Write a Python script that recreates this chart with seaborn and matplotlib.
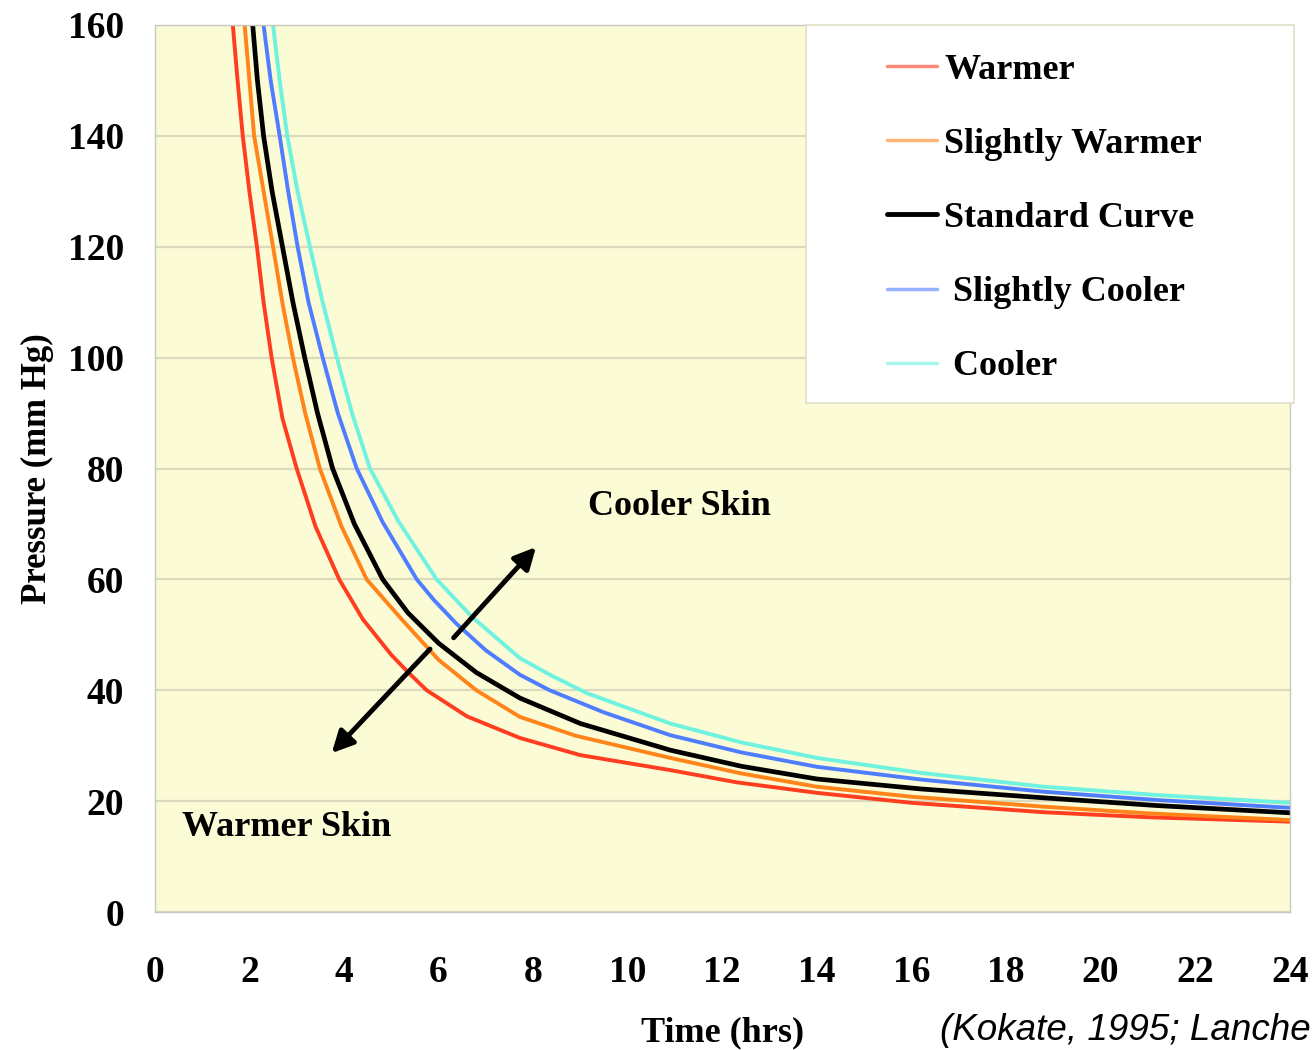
import pandas as pd
import numpy as np
import matplotlib
matplotlib.use("Agg")
import matplotlib.pyplot as plt
import seaborn as sns
from matplotlib.patches import Rectangle

# region Datos
warmer_t = [1.65, 1.75, 1.86, 2.0, 2.16, 2.3, 2.47, 2.7, 3.0, 3.4, 3.9, 4.4, 5.0, 5.35,
            5.75, 6.6, 7.72, 9.0, 10.9, 12.3, 14.0, 16.0, 18.8, 21.0, 24.0]
warmer_p = [160, 150, 140, 130, 120, 110, 100, 89, 80, 69.5, 60, 52.8, 46.4, 43.3,
            40, 35.3, 31.4, 28.3, 25.6, 23.4, 21.5, 19.7, 18.0, 17.1, 16.3]

sl_warmer_t = [1.9, 2.0, 2.1, 2.3, 2.5, 2.7, 2.92, 3.18, 3.49, 3.95, 4.48, 5.2, 6.0,
               6.8, 7.72, 8.9, 10.9, 12.4, 14.0, 16.0, 18.8, 21.0, 24.0]
sl_warmer_p = [160, 150, 140, 130, 120, 109.8, 100, 90, 80, 69.5, 60, 53, 45.5,
               40, 35.2, 31.8, 27.8, 25.0, 22.6, 20.8, 19.0, 17.8, 16.6]

standard_t = [2.07, 2.17, 2.3, 2.48, 2.7, 2.92, 3.17, 3.44, 3.76, 4.22, 4.82, 5.35, 6.0,
              6.8, 7.72, 9.0, 10.9, 12.4, 14.0, 16.2, 18.8, 21.2, 24.0]
standard_p = [160, 150, 140, 130, 120, 110, 100, 90, 80, 70, 60, 54, 48.5,
              43.2, 38.6, 34.0, 29.2, 26.3, 24.0, 22.2, 20.6, 19.2, 17.9]

sl_cooler_t = [2.3, 2.45, 2.64, 2.82, 3.02, 3.25, 3.55, 3.87, 4.27, 4.82, 5.54, 5.9, 6.38,
               7.0, 7.72, 8.35, 9.5, 10.9, 12.4, 14.0, 16.2, 18.8, 21.2, 24.0]
sl_cooler_p = [160, 150, 140, 130, 120, 110, 100, 90, 80, 70.3, 60, 56.3, 52,
               47.2, 42.8, 40, 36, 31.9, 28.8, 26.2, 23.9, 21.7, 20.2, 18.8]

cooler_t = [2.5, 2.64, 2.8, 3.02, 3.28, 3.55, 3.85, 4.17, 4.55, 5.15, 5.96, 6.7, 7.72,
            8.4, 9.13, 10.9, 12.4, 14.0, 16.2, 18.8, 21.2, 24.0]
cooler_p = [160, 150, 140, 130, 120, 110, 100, 90, 80, 70.5, 60, 53.3, 45.8,
            42.6, 39.5, 34.0, 30.6, 27.8, 25.1, 22.6, 21.1, 19.7]

series_names = ["Warmer", "Slightly Warmer", "Standard Curve", " Slightly Cooler", " Cooler"]
series_colors = ["#ff3d1f", "#ff8419", "#000000", "#4f7dff", "#6ff2df"]
x_ticks = list(range(0, 25, 2))
y_ticks = list(range(0, 161, 20))
# endregion

# region Construir DataFrame
frames = []
for name, t, p in zip(series_names,
                      [warmer_t, sl_warmer_t, standard_t, sl_cooler_t, cooler_t],
                      [warmer_p, sl_warmer_p, standard_p, sl_cooler_p, cooler_p]):
    frames.append(pd.DataFrame({"Time": t, "Pressure": p, "Curva": name}))
df = pd.concat(frames, ignore_index=True)
# endregion

# region Grafico
sns.set_style("white")
plt.rcParams["font.family"] = ["Liberation Serif", "DejaVu Serif"]
plt.rcParams["text.color"] = "black"
plt.rcParams["xtick.color"] = "black"
plt.rcParams["ytick.color"] = "black"
plt.rcParams["axes.labelcolor"] = "black"

fig = plt.figure(figsize=(13.12, 10.5), dpi=100)
ax = fig.add_axes([0.118, 0.1314, 0.865, 0.8448])
ax.set_facecolor("#fbfbd6")

palette = dict(zip(series_names, series_colors))
sns.lineplot(data=df, x="Time", y="Pressure", hue="Curva", palette=palette,
             estimator=None, linewidth=2.8, ax=ax, legend=False)
ax.get_lines()[2].set_linewidth(3.4)

ax.set_xlim(0, 24)
ax.set_ylim(0, 160)
ax.set_xticks(x_ticks)
ax.set_yticks(y_ticks)
ax.tick_params(axis="both", labelsize=27, length=5, width=1, color="#a8a8a8",
               labelcolor="black", direction="out")
ax.tick_params(axis="x", pad=26)
ax.tick_params(axis="y", pad=17)
for lab in ax.get_xticklabels() + ax.get_yticklabels():
    lab.set_fontweight("bold")
ax.yaxis.grid(True, color="#dcdabd", linewidth=1.6)
ax.xaxis.grid(False)
ax.set_axisbelow(True)
for s in ax.spines.values():
    s.set_color("#c8c8c0")
    s.set_linewidth(1)

ax.set_xlabel("Time (hrs)", fontsize=26, fontweight="bold", labelpad=19)
ax.set_ylabel("Pressure (mm Hg)", fontsize=25, fontweight="bold", labelpad=10)

# Caja de la leyenda
ax.add_patch(Rectangle((0.574, 0.574), 0.43, 0.426, transform=ax.transAxes,
                       facecolor="white", edgecolor="#e0dfc8", linewidth=1.2,
                       clip_on=False, zorder=4))
handles = [plt.Line2D([], [], color=c, linewidth=3.5 if n == "Standard Curve" else 2.5,
                      alpha=1.0 if n == "Standard Curve" else 0.6)
           for n, c in zip(series_names, series_colors)]
leg = ax.legend(handles, series_names, loc="upper left", bbox_to_anchor=(0.632, 0.984),
                frameon=False, fontsize=26, labelspacing=1.13, handlelength=1.4,
                handletextpad=0.2, borderaxespad=0)
leg.set_zorder(5)
for txt in leg.get_texts():
    txt.set_fontweight("bold")

# Flechas y anotaciones
arrow_style = "-|>,head_length=1.3,head_width=0.65"
ax.annotate("", xy=(8.10, 66.2), xytext=(6.28, 49.1),
            arrowprops=dict(arrowstyle=arrow_style, color="black", lw=3.5))
ax.annotate("", xy=(3.70, 28.3), xytext=(5.86, 47.8),
            arrowprops=dict(arrowstyle=arrow_style, color="black", lw=3.5))
ax.text(11.1, 73.2, "Cooler Skin", fontsize=26, fontweight="bold", ha="center", va="center")
ax.text(2.79, 15.2, "Warmer Skin", fontsize=26, fontweight="bold", ha="center", va="center")

fig.text(940 / 1312, 1 - 1031 / 1050, "(Kokate, 1995; Lanche", fontsize=26.5,
         style="italic", family=["Liberation Sans", "DejaVu Sans"], ha="left", va="center")

fig.savefig("out.png", dpi=100)
# endregion
